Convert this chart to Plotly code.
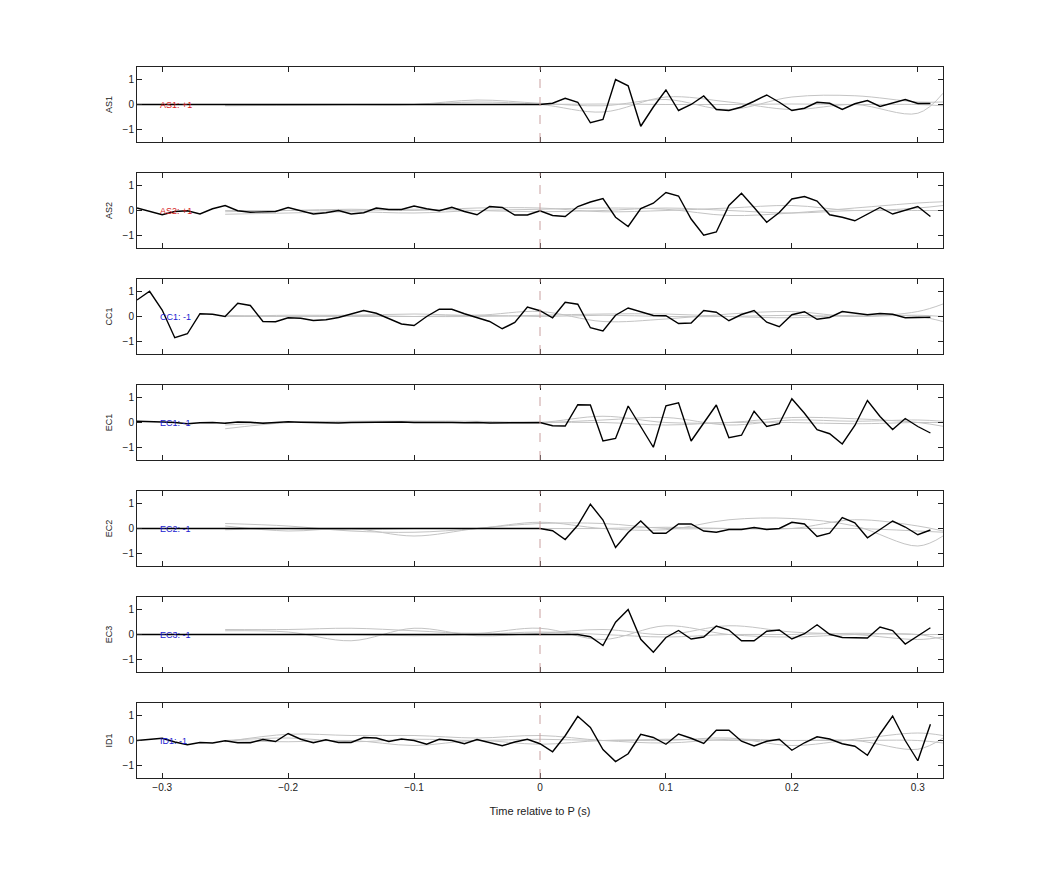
import plotly.graph_objects as go

times = [round(-0.32 + 0.01*i, 2) for i in range(64)]
names = ["AS1", "AS2", "CC1", "EC1", "EC2", "EC3", "ID1"]
labels = ["AS1: +1", "AS2: +1", "CC1: -1", "EC1: -1", "EC2: -1", "EC3: -1", "ID1: -1"]
label_colors = ["#d62020", "#d62020", "#2020d0", "#2020d0", "#2020d0", "#2020d0", "#2020d0"]

as1 = [0.0, 0.0, -0.01, 0.0, 0.0, 0.01, 0.02, 0.01, 0.0, 0.0, 0.01, 0.0, 0.0, 0.01, 0.0, 0.0,
       0.01, 0.0, 0.0, 0.0, 0.01, 0.0, 0.0, -0.01, 0.0, 0.02, 0.01, 0.0, 0.02, 0.01, 0.0, 0.0,
       0.0, 0.05, 0.25, 0.09, -0.73, -0.6, 1.0, 0.75, -0.87, -0.1, 0.58, -0.24, 0.0, 0.34, -0.2, -0.24,
       -0.1, 0.13, 0.38, 0.09, -0.24, -0.15, 0.09, 0.05, -0.2, 0.03, 0.16, -0.08, 0.07, 0.2, 0.04, 0.04]
as2 = [0.10, -0.04, -0.17, -0.04, -0.01, -0.14, 0.07, 0.2, -0.01, -0.07, -0.04, -0.04, 0.12, 0.0, -0.14, -0.09,
       0.0, -0.14, -0.09, 0.10, 0.04, 0.04, 0.18, 0.07, -0.01, 0.13, -0.04, -0.17, 0.16, 0.12, -0.18, -0.18,
       -0.01, -0.2, -0.24, 0.16, 0.34, 0.48, -0.27, -0.64, 0.08, 0.29, 0.72, 0.58, -0.34, -0.99, -0.86, 0.2,
       0.69, 0.12, -0.47, -0.08, 0.46, 0.56, 0.38, -0.17, -0.27, -0.41, -0.14, 0.12, -0.14, 0.01, 0.16, -0.24]
cc1_px = [88, 62, 118, 202, 190, 130, 131, 138, 98, 105, 153, 154, 142, 143, 150, 148,
          141, 130, 120, 128, 144, 161, 165, 138, 116, 116, 130, 140, 153, 175, 156, 109,
          121, 142, 95, 101, 172, 182, 134, 112, 124, 135, 136, 159, 158, 120, 125, 151,
          132, 120, 155, 169, 133, 124, 146, 141, 123, 127, 133, 129, 131, 142, 142, 140]
cc1 = [round((138 - v) / 75.5, 2) for v in cc1_px]
ec1 = [0.05, 0.05, 0.02, 0.0, -0.05, -0.01, 0.0, -0.03, 0.02, 0.01, -0.03, 0.0, 0.03, 0.01, 0.0, 0.01,
       -0.02, 0.0, 0.01, -0.01, 0.01, 0.02, 0.0, 0.01, 0.0, 0.0, -0.01, 0.0, -0.02, -0.02, -0.01, 0.0,
       0.0, -0.13, -0.14, 0.71, 0.70, -0.74, -0.64, 0.66, -0.18, -0.99, 0.67, 0.79, -0.74, -0.03, 0.70, -0.61,
       -0.51, 0.45, -0.16, -0.05, 0.95, 0.37, -0.29, -0.45, -0.86, -0.12, 0.88, 0.24, -0.28, 0.16, -0.16, -0.42]
ec2 = [0.0, 0.0, 0.01, 0.0, 0.0, -0.01, 0.0, 0.0, -0.01, -0.01, 0.0, 0.0, -0.01, 0.0, 0.0, 0.0,
       0.0, 0.0, 0.0, 0.0, 0.0, 0.01, 0.0, 0.0, 0.0, 0.0, 0.01, 0.01, 0.01, 0.01, 0.01, 0.01,
       0.0, -0.09, -0.44, 0.13, 0.97, 0.34, -0.76, -0.16, 0.30, -0.19, -0.19, 0.18, 0.18, -0.10, -0.15, -0.04,
       -0.04, 0.04, -0.04, 0.0, 0.25, 0.18, -0.32, -0.19, 0.44, 0.23, -0.37, -0.04, 0.30, 0.06, -0.25, -0.06]
ec3 = [0.0, 0.0, 0.0, 0.0, 0.01, 0.01, 0.02, 0.02, 0.02, 0.02, 0.02, 0.02, 0.02, 0.01, 0.01, 0.0,
       0.0, 0.0, 0.01, 0.01, 0.01, 0.01, 0.0, -0.01, 0.0, 0.01, 0.01, 0.01, 0.0, 0.0, 0.0, 0.0,
       0.0, -0.01, -0.01, 0.0, -0.09, -0.44, 0.49, 1.0, -0.19, -0.71, -0.12, 0.16, -0.18, -0.10, 0.34, 0.18,
       -0.25, -0.25, 0.13, 0.18, -0.18, 0.03, 0.39, 0.01, -0.12, -0.13, -0.14, 0.30, 0.16, -0.38, -0.05, 0.27]
id1_px = [150, 148, 143, 155, 163, 156, 158, 151, 157, 157, 147, 153, 128, 146, 157, 148,
          156, 156, 141, 142, 153, 145, 150, 162, 146, 150, 160, 147, 156, 166, 155, 146,
          160, 185, 135, 75, 110, 178, 215, 191, 131, 141, 162, 130, 143, 159, 118, 118,
          152, 167, 152, 146, 180, 157, 138, 145, 160, 168, 196, 130, 74, 150, 213, 100]
id1 = [round((150 - v) / 77.5, 2) for v in id1_px]
black_series = [as1, as2, cc1, ec1, ec2, ec3, id1]

# gray template traces (knots every 0.05 s)
gray_t = [-0.25, -0.2, -0.15, -0.1, -0.05, 0.0, 0.05, 0.1, 0.15, 0.2, 0.25, 0.3, 0.32]
gray_series = [
    [[-0.05, -0.03, 0.0, 0.0, 0.1, 0.0, -0.3, 0.3, 0.1, -0.2, 0.0, -0.35, 0.45],
     [-0.03, -0.02, -0.01, 0.0, 0.18, 0.05, -0.05, 0.2, -0.2, 0.3, 0.35, 0.1, 0.1],
     [0.0, 0.0, 0.0, 0.0, 0.0, 0.0, 0.02, 0.0, 0.0, 0.02, 0.0, 0.0, -0.05]],
    [[-0.15, -0.1, -0.05, -0.1, 0.0, 0.05, 0.1, 0.05, -0.2, -0.1, 0.1, 0.3, 0.35],
     [-0.05, 0.0, 0.05, 0.0, 0.1, 0.1, -0.05, 0.0, 0.1, 0.2, 0.0, 0.1, 0.2],
     [0.0, 0.0, 0.0, 0.05, 0.0, -0.05, 0.0, 0.1, 0.0, -0.1, 0.0, 0.0, 0.0]],
    [[0.0, 0.05, 0.05, 0.1, 0.05, 0.2, -0.2, -0.1, 0.1, 0.2, 0.0, 0.2, 0.5],
     [0.0, 0.0, 0.0, 0.0, 0.0, 0.05, 0.1, 0.1, 0.0, -0.05, 0.05, 0.0, -0.2],
     [0.05, 0.0, 0.05, 0.0, 0.05, 0.0, 0.05, 0.0, 0.0, 0.05, 0.0, 0.05, 0.0]],
    [[-0.25, 0.0, 0.05, 0.05, 0.0, 0.0, 0.25, 0.0, 0.0, 0.2, 0.15, 0.0, -0.15],
     [-0.1, 0.0, 0.0, 0.05, 0.05, 0.0, 0.1, 0.2, -0.1, 0.1, 0.05, 0.1, 0.05],
     [0.0, 0.0, 0.0, 0.0, 0.0, 0.0, 0.0, -0.1, 0.0, 0.0, -0.05, 0.0, 0.0]],
    [[0.2, 0.1, -0.1, -0.15, 0.0, 0.25, 0.0, -0.05, 0.35, 0.4, 0.1, -0.7, -0.3],
     [0.1, -0.1, 0.0, -0.3, 0.0, 0.2, 0.2, 0.0, 0.0, 0.0, 0.35, 0.1, -0.1],
     [-0.05, 0.0, -0.05, 0.0, 0.0, 0.0, 0.0, 0.05, 0.0, 0.0, 0.0, -0.1, -0.15]],
    [[0.2, 0.2, 0.25, 0.15, 0.05, 0.25, -0.2, 0.35, 0.0, -0.1, 0.0, 0.0, -0.2],
     [0.15, 0.1, -0.25, 0.25, -0.05, 0.05, 0.2, 0.0, 0.35, 0.1, 0.0, -0.2, -0.1],
     [0.0, 0.0, 0.0, -0.05, 0.0, 0.1, 0.0, -0.1, 0.0, 0.0, 0.05, 0.0, 0.0]],
    [[-0.05, 0.25, 0.2, 0.2, 0.1, 0.2, 0.0, -0.1, 0.05, 0.0, 0.0, -0.35, 0.1],
     [0.0, -0.05, 0.0, -0.2, 0.0, -0.15, 0.0, 0.0, 0.1, -0.2, 0.05, 0.3, 0.2],
     [0.0, 0.1, -0.05, 0.05, 0.0, 0.05, 0.0, 0.05, 0.0, 0.0, 0.0, 0.0, -0.1]],
]

fig = go.Figure()
top0, panel_h, step = 66, 75, 106
plot_top, plot_bot = 66, 777
span = plot_bot - plot_top
for i in range(7):
    ax = "" if i == 0 else str(i + 1)
    xr, yr = "x" + ax, "y" + ax
    for g in gray_series[i]:
        fig.add_trace(go.Scatter(x=gray_t, y=g, mode="lines", line=dict(color="#c4c4c4", width=1, shape="spline", smoothing=1.0),
                                 xaxis=xr, yaxis=yr, showlegend=False, hoverinfo="skip"))
    fig.add_trace(go.Scatter(x=times, y=black_series[i], mode="lines", line=dict(color="black", width=1.4),
                             xaxis=xr, yaxis=yr, showlegend=False))
    yt = top0 + step * i
    yb = yt + panel_h
    dom = [(plot_bot - yb) / span, (plot_bot - yt) / span]
    fig.layout["xaxis" + ax] = dict(domain=[0, 1], range=[-0.32, 0.32], anchor=yr, showline=True, mirror="ticks",
                                   linecolor="#222", linewidth=1, ticks="inside", ticklen=5, tickcolor="#222",
                                   tickvals=[-0.3, -0.2, -0.1, 0, 0.1, 0.2, 0.3], showticklabels=(i == 6),
                                   showgrid=False, zeroline=False, tickfont=dict(size=10, family="Liberation Sans", color="#222"),
                                   matches="x" if i > 0 else None)
    fig.layout["yaxis" + ax] = dict(domain=dom, range=[-1.5, 1.5], anchor=xr, showline=True, mirror="ticks",
                                   linecolor="#222", linewidth=1, ticks="inside", ticklen=5, tickcolor="#222",
                                   tickvals=[-1, 0, 1], showgrid=False, zeroline=False,
                                   tickfont=dict(size=10, family="Liberation Sans", color="#222"),
                                   title=dict(text=names[i], font=dict(size=9, family="Liberation Sans", color="#222"), standoff=8))
    fig.add_shape(type="line", xref=xr, yref=yr + " domain", x0=0, x1=0, y0=0, y1=1,
                  line=dict(color="#c9a0a0", width=1, dash="dash"))
    fig.add_annotation(x=-0.303, y=0, xref=xr, yref=yr, text=labels[i], showarrow=False, xanchor="left",
                       font=dict(size=9, family="Liberation Sans", color=label_colors[i]))

fig.layout.xaxis7.title = dict(text="Time relative to P (s)", font=dict(size=11, family="Liberation Sans", color="#222"))
fig.update_layout(width=1042, height=875, paper_bgcolor="white", plot_bgcolor="white",
                  margin=dict(l=129, r=107, t=59, b=105), showlegend=False)
fig.write_html("out.html")
